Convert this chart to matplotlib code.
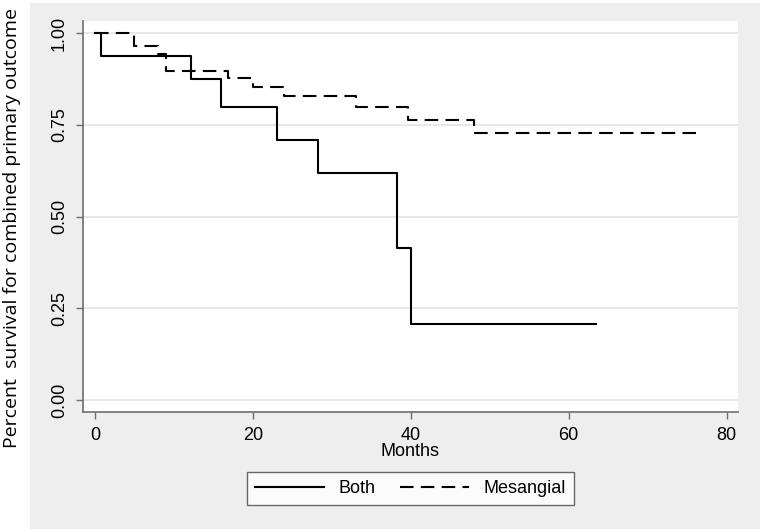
import matplotlib
matplotlib.use("Agg")
import matplotlib.pyplot as plt
from matplotlib.patches import Rectangle

# Kaplan-Meier style step data
both_t = [0, 0.7, 12.2, 16.0, 23.1, 28.3, 38.3, 40.0, 63.5]
both_s = [1.0, 0.9375, 0.875, 0.80, 0.71, 0.62, 0.415, 0.207, 0.207]
mes_t = [0, 4.9, 8.0, 9.0, 16.9, 20.0, 23.9, 33.0, 39.7, 48.0, 77.0]
mes_s = [1.0, 0.965, 0.943, 0.898, 0.878, 0.854, 0.829, 0.80, 0.763, 0.727, 0.727]
xticks = [0, 20, 40, 60, 80]
yticks = [0.0, 0.25, 0.5, 0.75, 1.0]
ytick_labels = ["0.00", "0.25", "0.50", "0.75", "1.00"]

W, H = 760, 532
tick_font = ["Liberation Sans Narrow", "Liberation Sans", "DejaVu Sans"]
plt.rcParams['font.family'] = tick_font

fig = plt.figure(figsize=(W / 100, H / 100), dpi=100)
fig.patch.set_facecolor("white")
fig.patches.append(Rectangle((30 / W, 3 / H), 1, 526 / H, transform=fig.transFigure,
                             facecolor="#eeeeee", edgecolor="none", zorder=-5))

ax = fig.add_axes([83.3 / W, 1 - 411.7 / H, 655 / W, 391 / H])
ax.set_zorder(2)
ax.set_facecolor("white")
ax.step(both_t, both_s, where="post", color="black", lw=1.5, label="Both")
ax.step(mes_t, mes_s, where="post", color="black", lw=1.5, dashes=(6.5, 3.5),
        label="Mesangial")

ax.set_xlim(-1.48, 81.48)
ax.set_ylim(-0.032, 1.034)
ax.set_xticks(xticks)
ax.set_yticks(yticks)
ax.set_yticklabels(ytick_labels, rotation=90, va="center")
ax.yaxis.grid(True, color="#e4e4e4", lw=1.2)
ax.set_axisbelow(True)
for s in ["top", "right"]:
    ax.spines[s].set_visible(False)
for s in ["left", "bottom"]:
    ax.spines[s].set_color("#6e6e6e")
    ax.spines[s].set_linewidth(1.2)
ax.tick_params(direction="out", length=5, width=1, color="#6e6e6e",
               labelsize=13, pad=6)

fig.text(410.5 / W, 1 - 452 / H, "Months", ha="center", va="center",
         fontsize=13)
fig.text(12 / W, 1 - 228 / H, "Percent  survival for combined primary outcome",
         rotation=90, ha="center", va="center", fontsize=14,
         family=["Open Sans", "DejaVu Sans"])

leg = fig.legend(loc="center", bbox_to_anchor=(410.5 / W, 1 - 488.5 / H),
                 ncol=2, fontsize=13, frameon=True, fancybox=False,
                 handlelength=3.8, handletextpad=0.8, columnspacing=1.4,
                 borderpad=0.45)
leg.get_frame().set_edgecolor("#444444")
leg.get_frame().set_linewidth(1.0)
leg.set_zorder(3)

fig.savefig("out.png", dpi=100)
